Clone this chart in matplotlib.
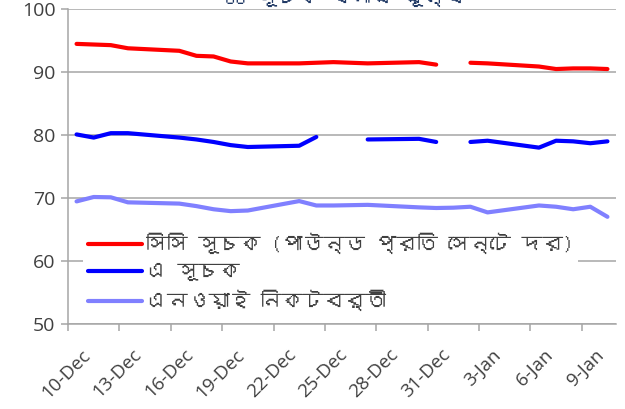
import numpy as np
import pandas as pd
import matplotlib
matplotlib.use("Agg")
import matplotlib.pyplot as plt
import matplotlib.transforms as mtransforms
from matplotlib import font_manager
from matplotlib.ft2font import FT2Font

# trading days shown in the chart
dates = ['2013-12-10', '2013-12-11', '2013-12-12', '2013-12-13', '2013-12-16',
         '2013-12-17', '2013-12-18', '2013-12-19', '2013-12-20', '2013-12-23',
         '2013-12-24', '2013-12-25', '2013-12-26', '2013-12-27', '2013-12-30',
         '2013-12-31', '2014-01-01', '2014-01-02', '2014-01-03', '2014-01-06',
         '2014-01-07', '2014-01-08', '2014-01-09', '2014-01-10']

cc_index = [94.5, 94.4, 94.3, 93.8, 93.4, 92.6, 92.5, 91.7, 91.4, 91.4, 91.5, 91.6,
            91.5, 91.4, 91.6, 91.2, np.nan, 91.5, 91.4, 90.9, 90.5, 90.6, 90.6, 90.5]
a_index = [80.1, 79.6, 80.3, 80.3, 79.6, 79.3, 78.9, 78.4, 78.1, 78.3, 79.7, np.nan,
           np.nan, 79.3, 79.4, 78.9, np.nan, 78.9, 79.1, 78.0, 79.1, 79.0, 78.7, 79.0]
ny_nearby = [69.45, 70.15, 70.1, 69.3, 69.1, 68.7, 68.2, 67.9, 68.0, 69.5, 68.8, 68.8,
             68.85, 68.9, 68.5, 68.4, 68.45, 68.6, 67.7, 68.8, 68.6, 68.2, 68.6, 67.0]

labels = ['সিসি সূচক (পাউন্ড প্রতি সেন্টে দর)', 'এ সূচক', 'এনওয়াই নিকটবর্তী']
colors = ['#FF0000', '#0000FF', '#8080FF']
title = 'CC সূচক বনাম মূল্য'
tick_dates = pd.date_range('2013-12-10', '2014-01-09', freq='3D')
tick_labels = [f"{d.day}-{d.strftime('%b')}" for d in tick_dates]

#find a font that has bengali glyphs, if any is installed
bn_font = None
for f in font_manager.fontManager.ttflist:
    try:
        if 0x09B8 in FT2Font(f.fname).get_charmap():
            bn_font = f.name
            break
    except Exception:
        pass
fams = ['Open Sans', 'DejaVu Sans']
if bn_font:
    fams = [bn_font] + fams
plt.rcParams['font.family'] = fams

x = pd.to_datetime(dates) + pd.Timedelta(hours=12)

fig = plt.figure(figsize=(6.25, 4.09), dpi=100)
ax = fig.add_axes([68/625, 1-323.7/409, (616-68)/625, (323.7-9.3)/409])

for vals, lab, col in zip([cc_index, a_index, ny_nearby], labels, colors):
    ax.plot(x, vals, color=col, lw=3, label=lab, solid_capstyle='round', zorder=3)

ax.set_ylim(50, 100)
ax.set_yticks(range(50, 101, 10))
ax.set_xlim(pd.Timestamp('2013-12-10'), pd.Timestamp('2014-01-11'))
ax.set_xticks(tick_dates)
ax.set_xticklabels(tick_labels)

grid_c = '#A6A6A6'
ax.grid(axis='y', color=grid_c, lw=1.1, zorder=0)
for s in ['top', 'right']:
    ax.spines[s].set_visible(False)
for s in ['left', 'bottom']:
    ax.spines[s].set_color(grid_c)
    ax.spines[s].set_linewidth(1.1)
ax.tick_params(axis='y', length=5, width=1.1, color=grid_c, labelsize=14,
               labelcolor='#404040', pad=4)
ax.tick_params(axis='x', length=5, width=1.1, color=grid_c, labelsize=13.5,
               labelcolor='#404040', pad=3)
shift = mtransforms.ScaledTranslation(13/100, -11/100, fig.dpi_scale_trans)
for t in ax.get_yticklabels() + ax.get_xticklabels():
    t.set_family(['Open Sans', 'DejaVu Sans'])
for t in ax.get_xticklabels():
    t.set_rotation(45)
    t.set_ha('right')
    t.set_rotation_mode('anchor')
    t.set_transform(t.get_transform() + shift)

leg = ax.legend(loc='center left', bbox_to_anchor=(0.009, 0.165), fontsize=15,
                handlelength=2.6, handletextpad=0.2, labelspacing=0.42,
                frameon=True, fancybox=False, framealpha=1, borderpad=0.2)
leg.get_frame().set_facecolor('white')
leg.get_frame().set_edgecolor('none')
for t in leg.get_texts():
    t.set_color('#404040')

fig.text(0.552, 1-4/409, title, ha='center', va='baseline', fontsize=15,
         fontweight='bold', color='#1F3864')

fig.savefig('out.png', dpi=100)
